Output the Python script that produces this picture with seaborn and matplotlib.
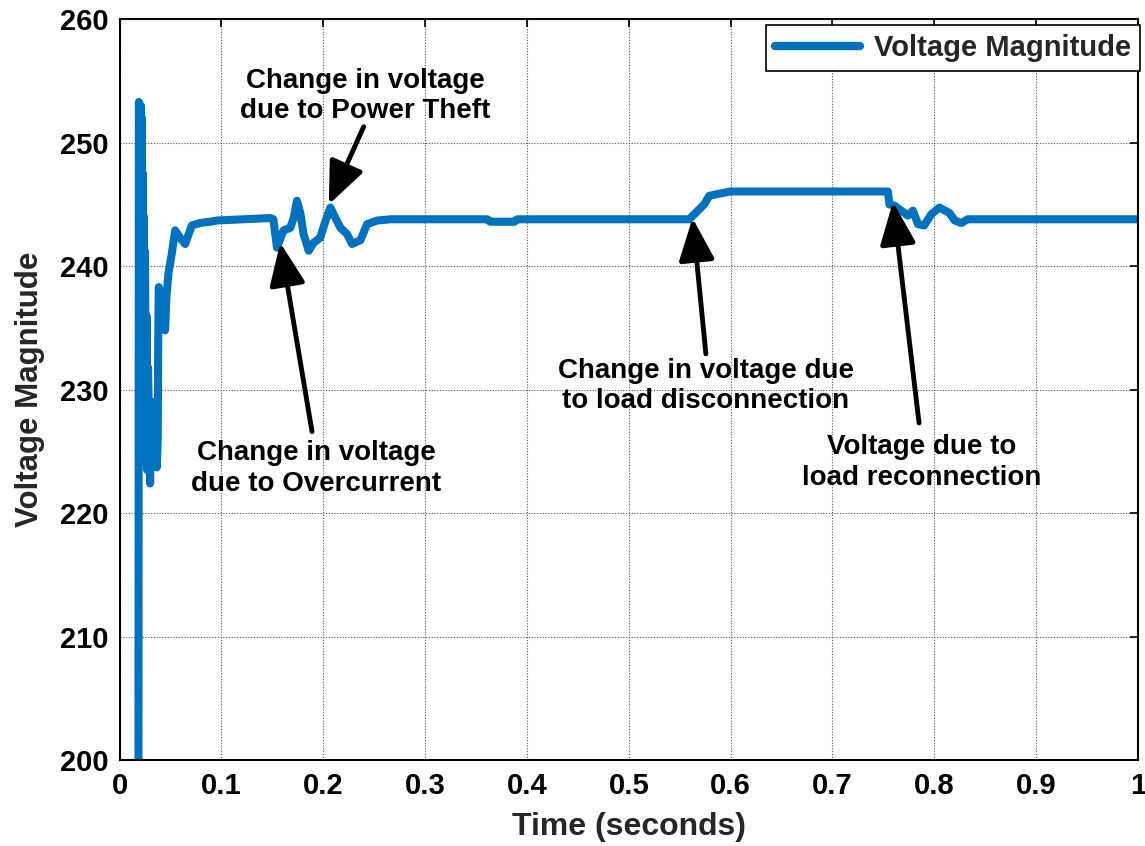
import matplotlib
matplotlib.use("Agg")
import matplotlib.pyplot as plt
import seaborn as sns
import pandas as pd

# ---------------- data ----------------
time_s = [0.0185, 0.019, 0.0205, 0.021, 0.0215, 0.022, 0.0225, 0.023, 0.0235, 0.024,
          0.0245, 0.025, 0.026, 0.0265, 0.027, 0.028, 0.030, 0.031, 0.0325, 0.034,
          0.0366, 0.0375, 0.038, 0.0385, 0.041, 0.0447, 0.046, 0.048, 0.0513, 0.0546,
          0.0595, 0.0644, 0.071, 0.079, 0.089, 0.0956, 0.1217, 0.148, 0.151, 0.1546,
          0.161, 0.1676, 0.171, 0.1742, 0.1775, 0.1807, 0.1857, 0.1906, 0.197, 0.202,
          0.207, 0.212, 0.217, 0.2234, 0.2283, 0.2365, 0.243, 0.253, 0.266, 0.361,
          0.364, 0.3876, 0.3906, 0.5593, 0.5642, 0.574, 0.579, 0.5905, 0.600, 0.7544,
          0.756, 0.761, 0.774, 0.779, 0.784, 0.790, 0.797, 0.805, 0.815, 0.820,
          0.8264, 0.833, 1.0]
voltage = [190.0, 253.3, 250.5, 253.0, 226.0, 252.0, 228.0, 247.5, 226.0, 244.0,
           225.0, 241.2, 224.0, 236.0, 223.5, 231.8, 222.4, 227.5, 225.0, 229.0,
           223.7, 226.0, 234.2, 238.3, 236.5, 234.8, 237.5, 239.4, 241.0, 242.9,
           242.3, 241.8, 243.3, 243.5, 243.6, 243.7, 243.8, 243.9, 243.8, 241.5,
           242.9, 243.1, 243.9, 245.3, 244.3, 242.6, 241.25, 241.9, 242.3, 243.6,
           244.75, 243.9, 243.1, 242.6, 241.8, 242.1, 243.4, 243.7, 243.8, 243.8,
           243.6, 243.6, 243.8, 243.8, 244.2, 245.0, 245.7, 245.9, 246.05, 246.05,
           245.0, 244.9, 244.1, 244.5, 243.4, 243.3, 244.2, 244.75, 244.3, 243.7,
           243.5, 243.8, 243.8]

x_ticks = [0, 0.1, 0.2, 0.3, 0.4, 0.5, 0.6, 0.7, 0.8, 0.9, 1.0]
x_tick_labels = ["0", "0.1", "0.2", "0.3", "0.4", "0.5", "0.6", "0.7", "0.8", "0.9", "1"]
y_ticks = [200, 210, 220, 230, 240, 250, 260]

# annotation texts, text anchor, arrow tail, arrow head
ann_texts = ["Change in voltage\ndue to Power Theft",
             "Change in voltage\ndue to Overcurrent",
             "Change in voltage due\nto load disconnection",
             "Voltage due to\nload reconnection"]
ann_text_xy = [(0.2415, 253.8), (0.193, 223.6), (0.5757, 230.3), (0.788, 224.1)]
ann_tail_xy = [(0.2397, 251.3), (0.189, 226.6), (0.5757, 232.9), (0.785, 227.3)]
ann_head_xy = [(0.2055, 245.0), (0.1578, 241.9), (0.5626, 243.9), (0.7593, 245.2)]

# ---------------- style ----------------
sns.set_style("white")
plt.rcParams["font.family"] = ["Liberation Sans", "DejaVu Sans"]
plt.rcParams["font.weight"] = "bold"

fig = plt.figure(figsize=(11.45, 8.46), dpi=100)
ax = fig.add_axes([0.1044, 0.1017, 0.9939 - 0.1044, 0.9772 - 0.1017])

df = pd.DataFrame({"Time": time_s, "Voltage": voltage})
sns.lineplot(data=df, x="Time", y="Voltage", ax=ax, color="#0072BD",
             linewidth=5.8, estimator=None, sort=False,
             label="Voltage Magnitude", solid_capstyle="round",
             solid_joinstyle="round")

ax.set_xlim(0, 1)
ax.set_ylim(200, 260)
ax.set_xticks(x_ticks)
ax.set_xticklabels(x_tick_labels)
ax.set_yticks(y_ticks)

ax.grid(True, linestyle=(0, (1, 1.5)), color="#555555", linewidth=0.8)
for sp in ax.spines.values():
    sp.set_visible(True)
    sp.set_color("black")
    sp.set_linewidth(1.5)

ax.tick_params(axis="both", which="major", direction="in", length=6, width=1.2,
               top=True, right=True, labelsize=21, colors="black")
ax.tick_params(axis="x", pad=9)
ax.tick_params(axis="y", pad=8)
for lbl in ax.get_xticklabels() + ax.get_yticklabels():
    lbl.set_fontweight("bold")

ax.set_xlabel("Time (seconds)", fontsize=23, fontweight="bold", color="#262626",
              labelpad=8)
ax.set_ylabel("Voltage Magnitude", fontsize=22.5, fontweight="bold", color="#262626",
              labelpad=11)

for txt, txy, tail, head in zip(ann_texts, ann_text_xy, ann_tail_xy, ann_head_xy):
    ax.text(txy[0], txy[1], txt, ha="center", va="center", fontsize=20,
            fontweight="bold", color="black", linespacing=1.22)
    ax.annotate("", xy=head, xytext=tail,
                arrowprops=dict(arrowstyle="-|>,head_length=1.3,head_width=0.55",
                                lw=3.5, color="black", mutation_scale=20,
                                shrinkA=0, shrinkB=0))

leg = ax.legend(loc="upper right", bbox_to_anchor=(1.002, 0.992), fontsize=21,
                frameon=True, fancybox=False, handlelength=2.9, handletextpad=0.5,
                borderpad=0.3, borderaxespad=0.0)
leg.get_frame().set_edgecolor("black")
leg.get_frame().set_linewidth(1.2)
leg.get_frame().set_alpha(1.0)
for t in leg.get_texts():
    t.set_fontweight("bold")
for h in leg.get_lines():
    h.set_linewidth(6)

fig.savefig("out.png", dpi=100)
